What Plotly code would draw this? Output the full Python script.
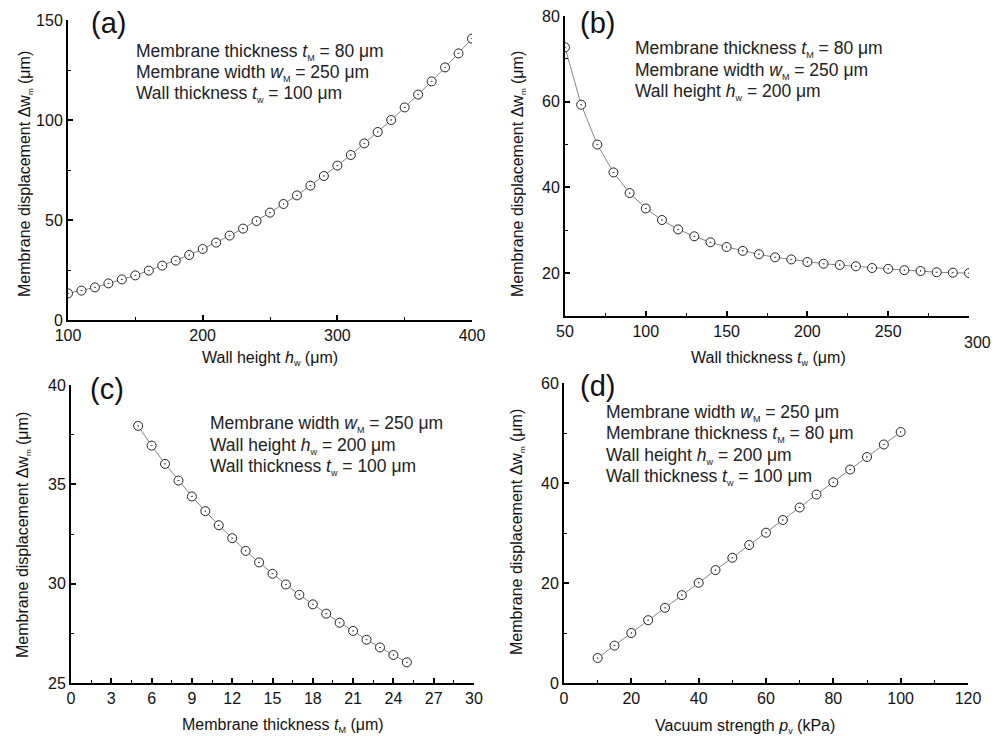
import plotly.graph_objects as go

# ---------------- data ----------------
a_x = [100, 110, 120, 130, 140, 150, 160, 170, 180, 190, 200, 210, 220, 230, 240, 250,
       260, 270, 280, 290, 300, 310, 320, 330, 340, 350, 360, 370, 380, 390, 400]
a_y = [13.3, 14.7, 16.3, 18.3, 20.3, 22.3, 24.7, 27.2, 29.7, 32.5, 35.5, 38.7, 42.2, 45.7,
       49.5, 53.7, 58.0, 62.3, 67.2, 72.0, 77.2, 82.5, 88.3, 94.0, 100.0, 106.3, 112.7,
       119.3, 126.3, 133.3, 140.7]

b_x = [50, 60, 70, 80, 90, 100, 110, 120, 130, 140, 150, 160, 170, 180, 190, 200, 210,
       220, 230, 240, 250, 260, 270, 280, 290, 300]
b_y = [72.7, 59.3, 50.0, 43.5, 38.7, 35.1, 32.4, 30.2, 28.6, 27.2, 26.1, 25.2, 24.4, 23.7,
       23.2, 22.6, 22.2, 21.9, 21.6, 21.2, 21.0, 20.7, 20.5, 20.2, 20.1, 20.0]

c_x = [5, 6, 7, 8, 9, 10, 11, 12, 13, 14, 15, 16, 17, 18, 19, 20, 21, 22, 23, 24, 25]
c_y = [37.94, 36.95, 36.03, 35.19, 34.39, 33.65, 32.94, 32.29, 31.65, 31.07, 30.50, 29.96,
       29.44, 28.96, 28.49, 28.03, 27.62, 27.18, 26.79, 26.41, 26.04]

d_x = [10, 15, 20, 25, 30, 35, 40, 45, 50, 55, 60, 65, 70, 75, 80, 85, 90, 95, 100]
d_y = [5.0, 7.48, 10.0, 12.56, 15.03, 17.57, 20.04, 22.58, 25.05, 27.59, 30.06, 32.6,
       35.1, 37.7, 40.15, 42.7, 45.2, 47.7, 50.2]

b_xticks = [50, 100, 150, 200, 250, 300]
b_xticktext = ["50", "100", "150", "200", "250", ""]
b_last_label = "300"


def sub(s, size=9):
    return '<sub><span style="font-size:%dpx">%s</span></sub>' % (size, s)


ytitle = "Membrane displacement \u0394w" + sub("m", 8) + " (\u03bcm)"
xtitles = ["Wall height <i>h</i>" + sub("w") + " (\u03bcm)",
           "Wall thickness <i>t</i>" + sub("w") + " (\u03bcm)",
           "Membrane thickness <i>t</i>" + sub("M") + " (\u03bcm)",
           "Vacuum strength <i>p</i>" + sub("v") + " (kPa)"]
panel_labels = ["(a)", "(b)", "(c)", "(d)"]
notes = [
    ["Membrane thickness <i>t</i>" + sub("M") + " = 80 \u03bcm",
     "Membrane width <i>w</i>" + sub("M") + " = 250 \u03bcm",
     "Wall thickness <i>t</i>" + sub("w") + " = 100 \u03bcm"],
    ["Membrane thickness <i>t</i>" + sub("M") + " = 80 \u03bcm",
     "Membrane width <i>w</i>" + sub("M") + " = 250 \u03bcm",
     "Wall height <i>h</i>" + sub("w") + " = 200 \u03bcm"],
    ["Membrane width <i>w</i>" + sub("M") + " = 250 \u03bcm",
     "Wall height <i>h</i>" + sub("w") + " = 200 \u03bcm",
     "Wall thickness <i>t</i>" + sub("w") + " = 100 \u03bcm"],
    ["Membrane width <i>w</i>" + sub("M") + " = 250 \u03bcm",
     "Membrane thickness <i>t</i>" + sub("M") + " = 80 \u03bcm",
     "Wall height <i>h</i>" + sub("w") + " = 200 \u03bcm",
     "Wall thickness <i>t</i>" + sub("w") + " = 100 \u03bcm"],
]

# ---------------- layout helpers ----------------
W, H = 1001, 736
FONT = "Liberation Sans, Arial, Helvetica, sans-serif"


def px(x):
    return x / W


def py(y):
    return 1 - y / H


fig = go.Figure()

series = [(a_x, a_y), (b_x, b_y), (c_x, c_y), (d_x, d_y)]
for i, (xs, ys) in enumerate(series):
    sfx = "" if i == 0 else str(i + 1)
    fig.add_trace(go.Scatter(
        x=xs, y=ys, mode="lines+markers", xaxis="x" + sfx, yaxis="y" + sfx,
        line=dict(color="#666666", width=0.8),
        marker=dict(symbol="circle-dot", size=9, color="white",
                    line=dict(color="#222222", width=1)),
        showlegend=False))

# panel geometry in pixels: (x0, x1, ytop, ybottom)
geo = [(68, 472, 20, 320), (565, 969, 16, 316), (71, 474, 385, 683), (564, 968, 383, 683)]
xranges = [[100, 400], [50, 300], [0, 30], [0, 120]]
yranges = [[0, 150], [10, 80], [25, 40], [0, 60]]
xdt = [(100, 50), (50, 25), (3, 1.5), (20, 10)]
ydt = [(50, 25), (20, 10), (5, 2.5), (20, 10)]

axis_common = dict(showline=True, linecolor="black", linewidth=2, showgrid=False,
                   zeroline=False, ticks="inside", ticklen=5, tickwidth=1.5,
                   tickcolor="black", mirror=False, automargin=False,
                   tickfont=dict(family=FONT, size=16, color="#111111"))

for i in range(4):
    sfx = "" if i == 0 else str(i + 1)
    x0, x1, yt, yb = geo[i]
    xa = dict(axis_common, domain=[px(x0), px(x1)], range=xranges[i],
              anchor="y" + sfx, tick0=0, dtick=xdt[i][0],
              minor=dict(ticks="inside", ticklen=3, tickwidth=1.2, tickcolor="black",
                         dtick=xdt[i][1], tick0=0, showgrid=False))
    ya = dict(axis_common, domain=[py(yb), py(yt)], range=yranges[i],
              anchor="x" + sfx, tick0=0, dtick=ydt[i][0],
              minor=dict(ticks="inside", ticklen=3, tickwidth=1.2, tickcolor="black",
                         dtick=ydt[i][1], tick0=0, showgrid=False))
    if i == 1:
        xa.update(tickmode="array", tickvals=b_xticks, ticktext=b_xticktext)
        xa["minor"].update(tick0=25, dtick=50)
    fig.layout["xaxis" + sfx] = xa
    fig.layout["yaxis" + sfx] = ya

ann = []
# axis titles
ytitle_pos = [(25, 174), (518, 174), (23, 535), (517, 532)]
xtitle_pos = [(270, 358), (768, 358), (283, 725), (745, 726)]
for i in range(4):
    ann.append(dict(text=ytitle, x=px(ytitle_pos[i][0]), y=py(ytitle_pos[i][1]),
                    xref="paper", yref="paper", textangle=-90, showarrow=False,
                    xanchor="center", yanchor="middle",
                    font=dict(family=FONT, size=16, color="#111111")))
    ann.append(dict(text=xtitles[i], x=px(xtitle_pos[i][0]), y=py(xtitle_pos[i][1]),
                    xref="paper", yref="paper", showarrow=False,
                    xanchor="center", yanchor="middle",
                    font=dict(family=FONT, size=16, color="#111111")))

# panel labels
label_pos = [(108, 23), (597, 23), (107, 389), (597, 386)]
for i in range(4):
    ann.append(dict(text=panel_labels[i], x=px(label_pos[i][0]), y=py(label_pos[i][1]),
                    xref="paper", yref="paper", showarrow=False,
                    xanchor="center", yanchor="middle",
                    font=dict(family=FONT, size=29, color="#111111")))

# notes
note_pos = [(134, [52, 73, 94]), (633, [49, 71, 92]), (208, [424, 446, 467]),
            (604, [413, 434, 456, 477])]
for i in range(4):
    xp, ys = note_pos[i]
    for t, yy in zip(notes[i], ys):
        ann.append(dict(text=t, x=px(xp), y=py(yy), xref="paper", yref="paper",
                        showarrow=False, xanchor="left", yanchor="middle",
                        font=dict(family=FONT, size=17.5, color="#222222")))

# displaced last tick label of panel (b)
ann.append(dict(text=b_last_label, x=b_xticks[-1], xref="x2", y=py(343), yref="paper",
                xshift=8, showarrow=False, xanchor="center", yanchor="middle",
                font=dict(family=FONT, size=16, color="#111111")))

fig.update_layout(width=W, height=H, margin=dict(l=0, r=0, t=0, b=0, autoexpand=False),
                  paper_bgcolor="white", plot_bgcolor="white",
                  font=dict(family=FONT), annotations=ann)

fig.write_html("out.html",
               config={"displayModeBar": False},
               post_script="document.body.style.margin='0';"
                           "document.body.style.padding='0';"
                           "document.body.style.overflow='hidden';")
